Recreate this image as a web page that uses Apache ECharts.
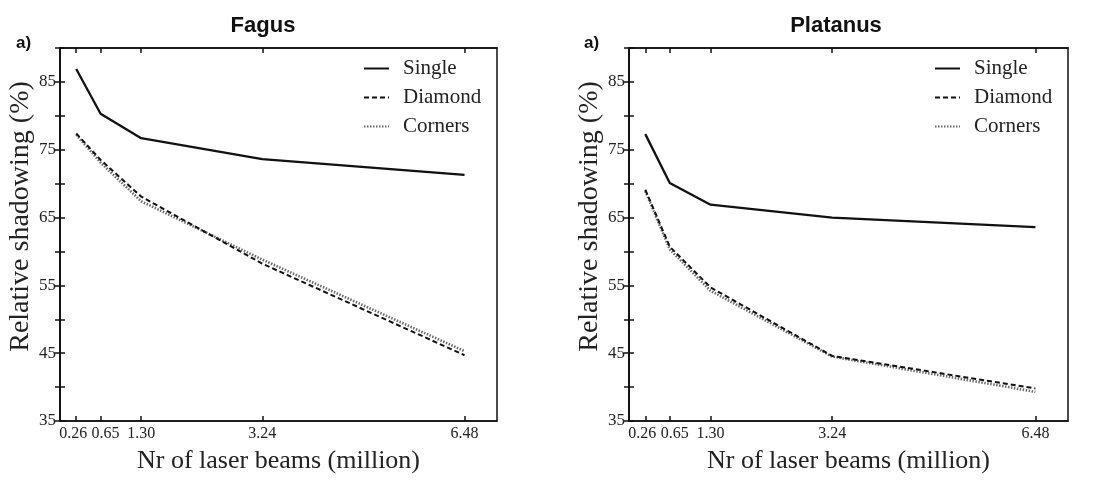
<!DOCTYPE html>
<html>
<head>
<meta charset="utf-8">
<script src="https://cdn.jsdelivr.net/npm/echarts@6/dist/echarts.min.js"></script>
<style>
  html, body { margin: 0; padding: 0; background: #fff; }
  #chart { width: 1112px; height: 483px; }
</style>
</head>
<body>
<div id="chart"></div>
<script>
// data
var beams = [0.26, 0.65, 1.30, 3.24, 6.48];
var yTicks = [35, 45, 55, 65, 75, 85];

var fagusSingle  = [86.9, 80.3, 76.7, 73.6, 71.3];
var fagusDiamond = [77.4, 73.5, 68.1, 58.2, 44.7];
var fagusCorners = [77.2, 73.1, 67.4, 58.8, 45.3];

var platSingle  = [77.3, 70.1, 66.9, 65.0, 63.6];
var platDiamond = [69.1, 60.7, 54.7, 44.6, 39.8];
var platCorners = [68.9, 60.3, 54.2, 44.5, 39.3];

var serif = '"Liberation Serif", "DejaVu Serif", serif';

function pairs(vals) {
    return beams.map(function (b, i) { return [b, vals[i]]; });
}

(function () {
    var myChart = echarts.init(document.getElementById('chart'));

    var grids = [
        { left: 60, top: 48, width: 437, height: 373 },
        { left: 629, top: 48, width: 439, height: 373 }
    ];

    // labels are too close to fit on one axis, so 0.65 goes on a twin axis
    var labelsA = beams.filter(function (b, i) { return i !== 1; });
    var labelsB = [beams[1]];
    var labelFont = { fontFamily: serif, fontSize: 16, color: '#222' };

    var xAxes = [], yAxes = [], series = [];
    grids.forEach(function (g, gi) {
        g.show = true;
        g.borderColor = '#111';
        g.borderWidth = 1.5;
        g.backgroundColor = '#fff';
        // bottom x axis
        xAxes.push({
            type: 'value', gridIndex: gi, min: 0, max: 7, position: 'bottom',
            name: 'Nr of laser beams (million)', nameLocation: 'middle', nameGap: 27,
            nameTextStyle: { fontFamily: serif, fontSize: 26, color: '#222' },
            axisLine: { lineStyle: { color: '#111', width: 1.5 } },
            axisTick: { inside: true, length: 5, customValues: beams, lineStyle: { color: '#111', width: 1.5 } },
            axisLabel: {
                customValues: labelsA, margin: 5, fontFamily: serif, fontSize: 16, color: '#222',
                formatter: function (v) {
                    return v === beams[0] ? '{l|' + v.toFixed(2) + '}' : v.toFixed(2);
                },
                rich: { l: Object.assign({ padding: [0, 6, 0, 0] }, labelFont) }
            },
            splitLine: { show: false }
        });
        // top x axis, ticks only
        xAxes.push({
            type: 'value', gridIndex: gi, min: 0, max: 7, position: 'top',
            axisLine: { lineStyle: { color: '#111', width: 1.5 } },
            axisTick: { inside: true, length: 5, customValues: beams, lineStyle: { color: '#111', width: 1.5 } },
            axisLabel: { show: false },
            splitLine: { show: false }
        });
        // twin bottom axis carrying the 0.65 label
        xAxes.push({
            type: 'value', gridIndex: gi, min: 0, max: 7, position: 'bottom', offset: 0,
            axisLine: { show: false },
            axisTick: { show: false },
            axisLabel: {
                customValues: labelsB, margin: 5, fontFamily: serif, fontSize: 16, color: '#222',
                padding: [0, 0, 0, 10],
                formatter: function (v) { return v.toFixed(2); }
            },
            splitLine: { show: false }
        });
        // left y axis
        yAxes.push({
            type: 'value', gridIndex: gi, min: 35, max: 90, interval: 5, position: 'left',
            name: 'Relative shadowing (%)', nameLocation: 'middle', nameGap: 24, nameRotate: 90,
            nameTextStyle: { fontFamily: serif, fontSize: 28, color: '#222', padding: [0, 0, 0, 36] },
            axisLine: { lineStyle: { color: '#111', width: 1.5 } },
            axisTick: { inside: true, length: 5, lineStyle: { color: '#111', width: 1.5 } },
            axisLabel: { customValues: yTicks, margin: 4, fontFamily: serif, fontSize: 17, color: '#222' },
            splitLine: { show: false }
        });
        // right y axis, ticks only
        yAxes.push({
            type: 'value', gridIndex: gi, min: 35, max: 90, interval: 5, position: 'right',
            axisLine: { lineStyle: { color: '#111', width: 1.5 } },
            axisTick: { inside: true, length: 5, lineStyle: { color: '#111', width: 1.5 } },
            axisLabel: { show: false },
            splitLine: { show: false }
        });
    });

    var sets = [
        [fagusSingle, fagusDiamond, fagusCorners],
        [platSingle, platDiamond, platCorners]
    ];
    sets.forEach(function (s, gi) {
        series.push({
            name: 'Single', type: 'line', xAxisIndex: gi * 3, yAxisIndex: gi * 2,
            data: pairs(s[0]), symbol: 'none', z: 3,
            lineStyle: { color: '#111', width: 2.3 }, itemStyle: { color: '#111' }
        });
        series.push({
            name: 'Diamond', type: 'line', xAxisIndex: gi * 3, yAxisIndex: gi * 2,
            data: pairs(s[1]), symbol: 'none', z: 4,
            lineStyle: { color: '#111', width: 2, type: [5, 3] }, itemStyle: { color: '#111' }
        });
        series.push({
            name: 'Corners', type: 'line', xAxisIndex: gi * 3, yAxisIndex: gi * 2,
            data: pairs(s[2]), symbol: 'none', z: 3,
            lineStyle: { color: '#6a6a6a', width: 2.6, type: [1.5, 1.5] }, itemStyle: { color: '#6a6a6a' }
        });
    });

    var legendText = { fontFamily: serif, fontSize: 21, color: '#222', padding: [0, 0, 0, 9] };
    var option = {
        backgroundColor: '#fff',
        animation: false,
        title: [
            { text: 'Fagus', left: 258, top: 10, textAlign: 'center',
              textStyle: { fontFamily: '"Liberation Sans", Arial, sans-serif', fontWeight: 'bold', fontSize: 22, color: '#111' } },
            { text: 'Platanus', left: 831, top: 10, textAlign: 'center',
              textStyle: { fontFamily: '"Liberation Sans", Arial, sans-serif', fontWeight: 'bold', fontSize: 22, color: '#111' } }
        ],
        graphic: [
            { type: 'text', left: 16, top: 35,
              style: { text: 'a)', font: 'bold 17px "Liberation Sans", Arial, sans-serif', fill: '#111' } },
            { type: 'text', left: 584, top: 35,
              style: { text: 'a)', font: 'bold 17px "Liberation Sans", Arial, sans-serif', fill: '#111' } }
        ],
        legend: [
            { orient: 'vertical', left: 363, top: 58, padding: 0, itemWidth: 25, itemHeight: 14, itemGap: 8,
              itemStyle: { opacity: 0 },
              data: ['Single', 'Diamond', 'Corners'], textStyle: legendText, selectedMode: false },
            { orient: 'vertical', left: 934, top: 58, padding: 0, itemWidth: 25, itemHeight: 14, itemGap: 8,
              itemStyle: { opacity: 0 },
              data: ['Single', 'Diamond', 'Corners'], textStyle: legendText, selectedMode: false }
        ],
        grid: grids,
        xAxis: xAxes,
        yAxis: yAxes,
        series: series
    };
    myChart.setOption(option);
    window.addEventListener('resize', function () {
        myChart.resize();
    });
})();
</script>
</body>
</html>
